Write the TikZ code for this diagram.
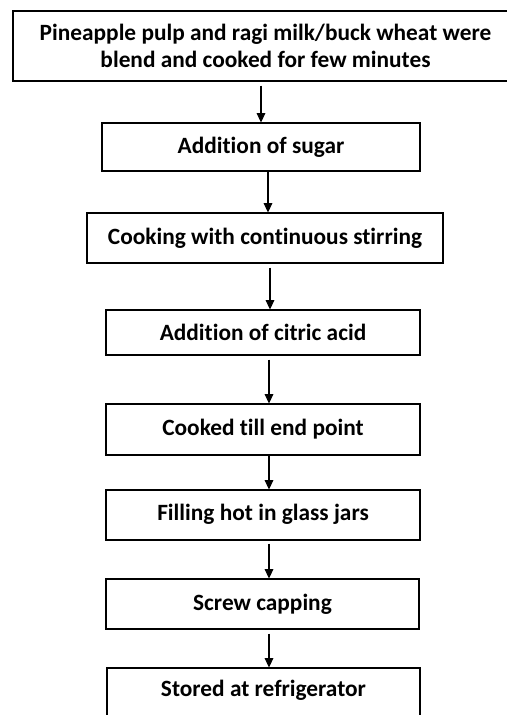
\documentclass[tikz,border=0pt]{standalone}
\usepackage{fontspec}
\setmainfont{Carlito}[Ligatures={NoCommon}]
\usetikzlibrary{arrows.meta}
\begin{document}
\begin{tikzpicture}[x=0.75pt,y=-0.75pt,
  box/.style={draw=black, line width=0.8pt, fill=white, inner sep=0pt, align=center,
    font=\fontsize{17.5pt}{20.25pt}\selectfont\bfseries},
  arr/.style={line width=0.8pt, -{Triangle[width=6.5pt,length=7pt]}}]
\useasboundingbox (0,0) rectangle (507,715);
\clip (0,0) rectangle (507,715);
\node[box, minimum width={505*0.75pt}, minimum height={70*0.75pt}] (b1) at (265.5,46)
  {Pineapple pulp and ragi milk/buck wheat were\\blend and cooked for few minutes};
\node[box, minimum width={318*0.75pt}, minimum height={48*0.75pt}] (b2) at (261,147)
  {\raisebox{1.5pt}{Addition of sugar}};
\node[box, minimum width={356*0.75pt}, minimum height={50*0.75pt}] (b3) at (265,238)
  {\raisebox{3pt}{Cooking with continuous stirring}};
\node[box, minimum width={314*0.75pt}, minimum height={45*0.75pt}] (b4) at (263,332.5)
  {Addition of citric acid};
\node[box, minimum width={314*0.75pt}, minimum height={51*0.75pt}] (b5) at (263,429.5)
  {\raisebox{3pt}{Cooked till end point}};
\node[box, minimum width={314*0.75pt}, minimum height={50*0.75pt}] (b6) at (263,515)
  {\raisebox{3.75pt}{Filling hot in glass jars}};
\node[box, minimum width={313*0.75pt}, minimum height={50*0.75pt}] (b7) at (262.5,604)
  {\raisebox{1.5pt}{Screw capping}};
\node[box, minimum width={313*0.75pt}, minimum height={52*0.75pt}] (b8) at (263.5,694)
  {\raisebox{8.25pt}{Stored at refrigerator}};
\coordinate (c1) at (261,0);
\coordinate (c2) at (268,0);
\coordinate (c3) at (270,0);
\coordinate (c4) at (269,0);
\draw[arr, shorten <=3pt] (b1.south -| c1) -- (b2.north -| c1);
\draw[arr] (b2.south -| c2) -- (b3.north -| c2);
\draw[arr, shorten <=3pt] (b3.south -| c3) -- (b4.north -| c3);
\draw[arr, shorten <=3pt] (b4.south -| c4) -- (b5.north -| c4);
\draw[arr] (b5.south -| c4) -- (b6.north -| c4);
\draw[arr, shorten <=2.25pt] (b6.south -| c4) -- (b7.north -| c4);
\draw[arr, shorten <=3pt] (b7.south -| c4) -- (b8.north -| c4);
\end{tikzpicture}
\end{document}
